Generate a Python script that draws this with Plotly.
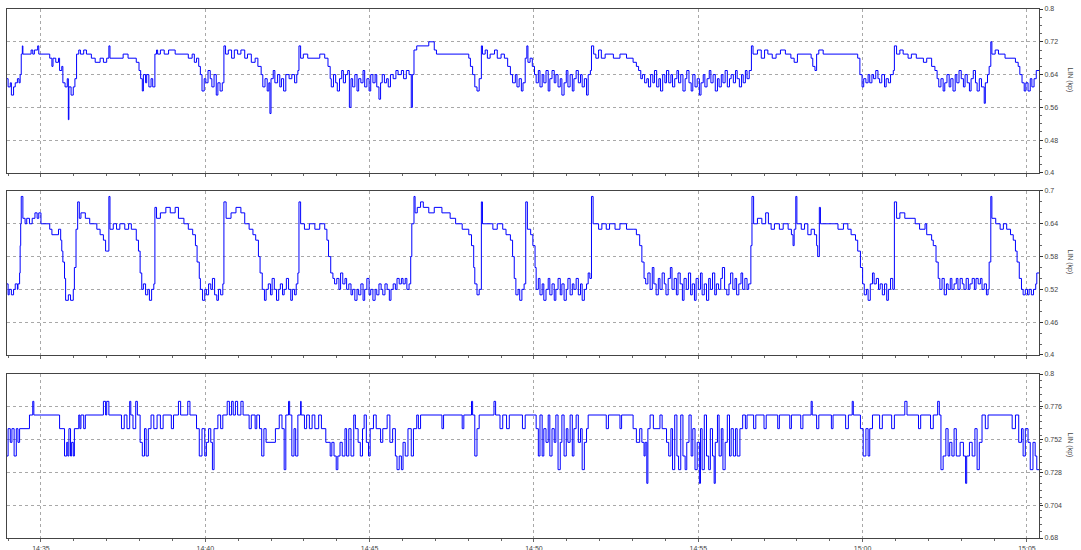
import datetime as dt
import plotly.graph_objects as go
from plotly.subplots import make_subplots

BASE = dt.datetime(2024, 1, 1, 14, 35, 0)

# ---------- Panel 1 (seconds after 14:35:00, value) ----------
T1 = [-64,-60,-56,-54,-50,-47,-43,-40,-38,-36,-34,-33,-18,-15,-12,-6,-4,16,20,22,27,32,34,38,40,44,48,50,51,55,59,62,65,69,72,78,83,92,99,108,114,120,124,126,150,159,174,179,182,185,187,191,193,197,201,204,208,211,213,218,225,233,245,269,276,280,284,288,291,294,298,301,305,309,312,316,320,323,327,331,334,337,342,348,353,359,365,372,377,384,391,396,402,405,409,413,416,418,420,424,427,432,436,439,443,447,453,458,463,467,469,471,474,479,487,509,518,524,528,530,534,538,541,545,549,552,556,560,563,566,569,573,577,580,584,588,591,595,599,602,606,610,613,617,620,623,627,631,634,638,643,648,652,658,662,667,672,676,678,681,686,708,718,722,781,784,788,792,796,800,804,806,811,815,820,828,833,840,846,852,857,861,866,869,873,877,880,884,887,889,893,897,901,904,908,911,915,918,922,926,929,933,937,940,944,948,951,955,959,962,966,970,973,977,981,985,988,992,996,999,1003,1005,1009,1013,1018,1023,1030,1045,1057,1069,1081,1087,1091,1095,1098,1102,1106,1109,1113,1117,1120,1124,1128,1131,1135,1139,1142,1146,1150,1153,1157,1161,1164,1168,1172,1176,1179,1183,1187,1190,1194,1198,1202,1205,1209,1212,1216,1220,1223,1227,1231,1235,1238,1242,1245,1249,1253,1257,1260,1264,1268,1271,1275,1279,1282,1286,1289,1293,1297,1300,1308,1315,1321,1327,1335,1342,1350,1359,1369,1375,1381,1406,1409,1413,1416,1420,1428,1491,1495,1499,1502,1506,1510,1513,1517,1520,1524,1528,1531,1535,1540,1543,1547,1551,1556,1558,1562,1568,1574,1583,1589,1598,1611,1617,1626,1632,1636,1639,1643,1647,1650,1654,1658,1661,1665,1669,1672,1676,1680,1684,1687,1691,1695,1698,1702,1706,1709,1713,1717,1722,1724,1728,1731,1734,1736,1742,1748,1760,1779,1784,1787,1791,1795,1798,1802,1806,1809,1813,1817,1822]
V1 = [0.63,0.61,0.62,0.59,0.61,0.62,0.63,0.62,0.64,0.69,0.71,0.69,0.70,0.69,0.70,0.71,0.69,0.68,0.66,0.68,0.67,0.68,0.65,0.66,0.62,0.61,0.63,0.53,0.61,0.59,0.61,0.63,0.69,0.70,0.69,0.70,0.69,0.68,0.67,0.68,0.67,0.68,0.71,0.68,0.69,0.68,0.67,0.65,0.63,0.60,0.64,0.62,0.64,0.61,0.63,0.61,0.69,0.70,0.69,0.70,0.69,0.70,0.69,0.68,0.69,0.67,0.68,0.66,0.64,0.60,0.63,0.62,0.65,0.63,0.61,0.64,0.59,0.62,0.60,0.62,0.71,0.69,0.70,0.68,0.70,0.69,0.70,0.68,0.69,0.67,0.68,0.66,0.64,0.61,0.63,0.60,0.62,0.545,0.63,0.65,0.62,0.64,0.61,0.63,0.60,0.64,0.63,0.64,0.62,0.64,0.65,0.71,0.68,0.69,0.68,0.69,0.68,0.66,0.63,0.61,0.64,0.62,0.60,0.63,0.65,0.62,0.64,0.65,0.56,0.63,0.61,0.64,0.60,0.63,0.62,0.65,0.61,0.63,0.60,0.64,0.62,0.64,0.61,0.58,0.62,0.64,0.62,0.63,0.61,0.64,0.63,0.65,0.64,0.65,0.63,0.65,0.64,0.56,0.64,0.70,0.71,0.72,0.70,0.69,0.68,0.66,0.64,0.61,0.60,0.63,0.71,0.69,0.70,0.68,0.69,0.70,0.68,0.69,0.68,0.66,0.64,0.62,0.64,0.61,0.63,0.60,0.62,0.68,0.71,0.67,0.68,0.66,0.64,0.62,0.65,0.61,0.64,0.62,0.65,0.60,0.63,0.65,0.62,0.64,0.61,0.63,0.59,0.62,0.65,0.61,0.64,0.60,0.63,0.65,0.62,0.64,0.61,0.63,0.59,0.64,0.65,0.71,0.69,0.68,0.70,0.68,0.69,0.68,0.69,0.68,0.67,0.66,0.65,0.63,0.64,0.62,0.63,0.61,0.64,0.62,0.65,0.61,0.63,0.60,0.64,0.62,0.65,0.62,0.64,0.61,0.63,0.65,0.62,0.64,0.60,0.63,0.65,0.62,0.60,0.64,0.61,0.63,0.59,0.62,0.64,0.61,0.63,0.65,0.62,0.64,0.60,0.63,0.61,0.64,0.62,0.65,0.61,0.63,0.64,0.62,0.65,0.63,0.61,0.64,0.62,0.65,0.63,0.65,0.71,0.69,0.70,0.68,0.70,0.69,0.68,0.69,0.70,0.69,0.68,0.67,0.69,0.68,0.66,0.65,0.69,0.70,0.69,0.68,0.64,0.61,0.63,0.62,0.64,0.62,0.64,0.63,0.65,0.63,0.62,0.64,0.61,0.63,0.62,0.64,0.65,0.71,0.69,0.70,0.69,0.68,0.69,0.68,0.67,0.68,0.66,0.65,0.63,0.61,0.63,0.60,0.62,0.64,0.61,0.63,0.60,0.64,0.62,0.65,0.63,0.61,0.64,0.62,0.60,0.63,0.65,0.62,0.60,0.63,0.61,0.57,0.62,0.64,0.66,0.72,0.69,0.70,0.69,0.68,0.67,0.66,0.64,0.62,0.60,0.62,0.60,0.63,0.61,0.63,0.65,0.65]

# ---------- Panel 2 ----------
T2 = [-64,-60,-58,-54,-50,-47,-43,-42,-39,-38,-37,-36,-33,-29,-26,-21,-16,-11,-7,-4,0,16,20,32,36,38,40,43,45,50,54,59,61,64,67,70,73,81,89,102,108,114,118,120,124,126,132,138,144,153,160,165,174,178,181,184,187,191,195,198,202,206,208,211,218,228,236,245,251,261,269,277,282,285,289,291,295,299,302,306,310,313,317,321,324,328,332,334,338,347,356,365,372,380,387,392,397,400,404,408,411,415,419,422,426,430,434,437,441,444,448,452,456,459,463,466,469,471,474,481,490,500,509,518,522,525,529,533,536,540,544,547,551,555,558,562,566,569,573,577,580,584,588,591,595,599,602,606,610,613,617,621,624,628,632,636,639,643,647,650,654,658,661,665,668,672,675,677,681,683,687,693,698,708,718,732,747,757,769,781,786,790,792,796,800,804,806,825,833,843,849,857,861,864,867,871,874,878,882,885,888,894,898,902,904,908,911,915,918,922,926,929,933,937,940,944,948,951,955,959,962,966,970,973,977,981,985,988,992,996,999,1002,1005,1008,1018,1024,1032,1038,1048,1057,1069,1081,1087,1093,1097,1101,1104,1108,1112,1116,1119,1123,1127,1130,1134,1138,1141,1145,1149,1152,1156,1160,1163,1167,1171,1174,1178,1182,1186,1189,1193,1196,1200,1204,1207,1211,1215,1219,1222,1226,1230,1233,1237,1241,1244,1248,1252,1256,1259,1263,1267,1270,1274,1278,1281,1285,1289,1292,1296,1298,1301,1308,1316,1323,1328,1333,1339,1348,1355,1364,1370,1373,1375,1378,1380,1388,1394,1400,1406,1412,1416,1418,1421,1423,1443,1455,1465,1473,1479,1487,1491,1496,1500,1503,1507,1510,1514,1518,1521,1525,1529,1532,1536,1540,1544,1547,1551,1555,1558,1562,1568,1577,1596,1604,1614,1617,1626,1629,1634,1638,1641,1645,1649,1653,1656,1660,1663,1667,1671,1674,1678,1682,1685,1689,1693,1696,1700,1704,1707,1711,1715,1718,1722,1726,1729,1731,1734,1736,1743,1751,1757,1763,1770,1775,1779,1782,1786,1790,1793,1797,1801,1804,1808,1812,1816,1818,1822]
V2 = [0.53,0.51,0.52,0.51,0.52,0.53,0.52,0.53,0.55,0.60,0.64,0.69,0.65,0.64,0.65,0.64,0.65,0.66,0.65,0.66,0.64,0.63,0.62,0.63,0.61,0.59,0.57,0.54,0.50,0.51,0.50,0.52,0.56,0.63,0.68,0.65,0.66,0.65,0.64,0.63,0.62,0.61,0.59,0.59,0.69,0.63,0.64,0.63,0.64,0.63,0.64,0.63,0.61,0.59,0.55,0.52,0.53,0.51,0.52,0.50,0.52,0.53,0.67,0.65,0.66,0.67,0.66,0.67,0.65,0.64,0.63,0.62,0.60,0.57,0.54,0.52,0.50,0.52,0.51,0.53,0.52,0.54,0.51,0.50,0.52,0.51,0.53,0.68,0.65,0.66,0.67,0.66,0.64,0.63,0.62,0.61,0.58,0.55,0.52,0.50,0.52,0.53,0.51,0.54,0.52,0.50,0.52,0.53,0.51,0.52,0.54,0.52,0.50,0.52,0.51,0.53,0.55,0.68,0.64,0.63,0.64,0.63,0.64,0.63,0.61,0.58,0.55,0.54,0.53,0.54,0.52,0.55,0.53,0.54,0.52,0.53,0.51,0.52,0.50,0.52,0.51,0.53,0.50,0.52,0.54,0.51,0.52,0.50,0.52,0.51,0.53,0.52,0.51,0.53,0.52,0.50,0.52,0.53,0.52,0.54,0.53,0.54,0.53,0.54,0.52,0.53,0.58,0.64,0.69,0.66,0.67,0.68,0.67,0.66,0.67,0.66,0.65,0.64,0.63,0.62,0.60,0.56,0.53,0.51,0.52,0.68,0.64,0.63,0.64,0.63,0.62,0.61,0.58,0.54,0.51,0.52,0.50,0.52,0.53,0.68,0.63,0.62,0.60,0.56,0.52,0.54,0.51,0.53,0.50,0.52,0.54,0.51,0.53,0.50,0.52,0.54,0.51,0.53,0.50,0.52,0.54,0.51,0.53,0.52,0.54,0.51,0.53,0.50,0.52,0.53,0.55,0.54,0.69,0.64,0.63,0.64,0.63,0.64,0.63,0.64,0.63,0.63,0.62,0.60,0.57,0.54,0.53,0.55,0.52,0.56,0.53,0.51,0.54,0.52,0.55,0.53,0.51,0.54,0.56,0.52,0.54,0.51,0.55,0.53,0.50,0.54,0.52,0.55,0.51,0.53,0.50,0.54,0.52,0.55,0.51,0.53,0.50,0.54,0.52,0.55,0.51,0.53,0.52,0.54,0.56,0.52,0.51,0.53,0.55,0.52,0.54,0.51,0.53,0.55,0.52,0.54,0.52,0.53,0.60,0.69,0.64,0.65,0.64,0.66,0.64,0.63,0.64,0.63,0.64,0.63,0.62,0.60,0.63,0.69,0.64,0.63,0.64,0.62,0.63,0.62,0.60,0.58,0.67,0.64,0.64,0.63,0.64,0.63,0.62,0.61,0.59,0.56,0.53,0.51,0.52,0.50,0.53,0.55,0.53,0.54,0.52,0.53,0.51,0.53,0.50,0.52,0.54,0.52,0.68,0.65,0.66,0.65,0.64,0.63,0.64,0.62,0.61,0.60,0.57,0.54,0.52,0.54,0.51,0.53,0.52,0.54,0.52,0.53,0.54,0.52,0.54,0.53,0.52,0.54,0.52,0.53,0.54,0.52,0.54,0.53,0.54,0.52,0.53,0.51,0.52,0.57,0.69,0.65,0.64,0.63,0.64,0.63,0.62,0.61,0.59,0.57,0.54,0.52,0.51,0.52,0.51,0.52,0.51,0.52,0.53,0.55,0.55]

# ---------- Panel 3 ----------
T3 = [-64,-60,-56,-53,-49,-45,-42,-39,-21,-15,-13,34,43,47,49,51,54,56,59,61,69,71,73,78,81,114,118,120,124,147,152,157,162,164,168,173,176,181,185,189,192,196,201,206,212,218,223,238,242,251,255,268,272,284,289,294,299,302,306,310,313,316,323,328,332,340,344,348,351,355,359,365,369,380,384,391,394,399,403,407,411,428,435,440,444,447,452,454,458,462,465,469,474,475,481,485,490,495,500,507,512,520,528,531,535,539,542,546,550,555,558,562,566,571,574,579,583,587,590,594,598,601,607,612,620,624,632,637,642,647,650,654,658,661,665,670,676,680,686,689,693,732,735,769,772,786,788,792,796,800,827,830,838,843,850,855,879,884,904,908,911,915,918,922,926,929,933,937,940,944,948,951,955,959,962,966,970,973,977,981,985,988,992,996,999,1032,1036,1057,1060,1081,1087,1093,1097,1101,1103,1106,1108,1112,1118,1130,1134,1142,1146,1150,1153,1157,1161,1164,1168,1172,1176,1179,1183,1187,1190,1194,1198,1202,1204,1207,1211,1215,1219,1222,1226,1229,1231,1235,1238,1242,1245,1249,1253,1257,1260,1264,1268,1271,1276,1281,1286,1289,1301,1305,1320,1324,1345,1348,1367,1370,1387,1391,1406,1408,1416,1420,1443,1446,1469,1474,1481,1483,1496,1501,1506,1510,1513,1518,1531,1536,1553,1558,1577,1581,1602,1606,1624,1629,1637,1640,1643,1647,1652,1656,1659,1663,1667,1671,1678,1684,1688,1690,1695,1700,1705,1709,1713,1718,1724,1729,1773,1779,1785,1790,1793,1797,1802,1806,1811,1815,1818,1822]
V3 = [0.74,0.76,0.75,0.76,0.74,0.76,0.75,0.76,0.77,0.78,0.77,0.76,0.74,0.75,0.74,0.76,0.74,0.75,0.74,0.76,0.77,0.76,0.77,0.76,0.77,0.78,0.77,0.78,0.77,0.76,0.77,0.76,0.78,0.77,0.76,0.78,0.77,0.75,0.74,0.76,0.74,0.76,0.77,0.76,0.77,0.76,0.77,0.76,0.77,0.78,0.77,0.78,0.77,0.76,0.74,0.76,0.74,0.75,0.76,0.75,0.73,0.76,0.77,0.76,0.77,0.78,0.77,0.78,0.77,0.78,0.77,0.78,0.77,0.76,0.77,0.76,0.77,0.76,0.74,0.76,0.75,0.76,0.77,0.76,0.73,0.77,0.78,0.77,0.74,0.76,0.74,0.77,0.78,0.77,0.76,0.77,0.76,0.77,0.76,0.77,0.76,0.75,0.74,0.75,0.74,0.73,0.74,0.75,0.74,0.76,0.74,0.76,0.74,0.77,0.76,0.75,0.74,0.76,0.77,0.75,0.74,0.76,0.77,0.76,0.75,0.76,0.77,0.75,0.76,0.74,0.73,0.74,0.73,0.75,0.74,0.76,0.74,0.76,0.77,0.76,0.77,0.76,0.77,0.76,0.77,0.78,0.77,0.74,0.76,0.77,0.78,0.77,0.76,0.77,0.76,0.77,0.76,0.77,0.76,0.74,0.77,0.74,0.76,0.75,0.77,0.74,0.76,0.75,0.77,0.73,0.75,0.77,0.74,0.76,0.75,0.77,0.74,0.76,0.77,0.75,0.76,0.73,0.75,0.76,0.77,0.76,0.77,0.76,0.77,0.76,0.75,0.76,0.75,0.74,0.75,0.72,0.76,0.77,0.76,0.77,0.76,0.75,0.74,0.76,0.73,0.77,0.74,0.73,0.77,0.74,0.73,0.75,0.77,0.74,0.76,0.73,0.75,0.72,0.76,0.73,0.77,0.74,0.73,0.76,0.74,0.72,0.75,0.77,0.74,0.76,0.73,0.75,0.77,0.74,0.76,0.74,0.76,0.74,0.76,0.77,0.76,0.77,0.76,0.77,0.76,0.77,0.76,0.77,0.76,0.77,0.76,0.77,0.78,0.77,0.76,0.77,0.76,0.77,0.76,0.77,0.78,0.77,0.76,0.74,0.76,0.74,0.76,0.77,0.76,0.77,0.76,0.77,0.78,0.77,0.76,0.77,0.76,0.77,0.78,0.77,0.73,0.74,0.76,0.74,0.75,0.74,0.76,0.74,0.75,0.74,0.72,0.74,0.75,0.74,0.76,0.73,0.75,0.77,0.76,0.77,0.76,0.77,0.75,0.76,0.74,0.76,0.75,0.73,0.75,0.74,0.73,0.73]

Y_TICKS = [
    [0.4, 0.48, 0.56, 0.64, 0.72, 0.8],
    [0.4, 0.46, 0.52, 0.58, 0.64, 0.7],
    [0.68, 0.704, 0.728, 0.752, 0.776, 0.8],
]
Y_LABELS = [
    ["0.4", "0.48", "0.56", "0.64", "0.72", "0.8"],
    ["0.4", "0.46", "0.52", "0.58", "0.64", "0.7"],
    ["0.68", "0.704", "0.728", "0.752", "0.776", "0.8"],
]
Y_TITLE = "LIN (kp)"

def to_time(ts):
    return [BASE + dt.timedelta(seconds=s) for s in ts]

fig = make_subplots(rows=3, cols=1, shared_xaxes=True, vertical_spacing=0.03)

for i, (T, V) in enumerate([(T1, V1), (T2, V2), (T3, V3)], start=1):
    fig.add_trace(go.Scatter(x=to_time(T), y=V, mode="lines",
                             line=dict(color="#0000ff", width=1, shape="hv"),
                             showlegend=False, hoverinfo="skip"), row=i, col=1)

domains = [[0.690, 1.0], [0.346, 0.656], [0.0, 0.310]]
FONT = "Liberation Sans, Arial, sans-serif"
axis_font = dict(family=FONT, size=7, color="#444")

for i in range(3):
    yname = "yaxis" if i == 0 else f"yaxis{i+1}"
    xname = "xaxis" if i == 0 else f"xaxis{i+1}"
    tv = Y_TICKS[i]
    fig.layout[yname].update(
        domain=domains[i], side="right", range=[tv[0], tv[-1]],
        tickmode="array", tickvals=tv, ticktext=Y_LABELS[i],
        tickfont=axis_font, ticks="outside", ticklen=3, tickcolor="#333",
        minor=dict(ticks="outside", ticklen=2, tickcolor="#666", nticks=5, showgrid=False),
        showgrid=True, gridcolor="#a8a8a8", griddash="dot", gridwidth=1,
        showline=True, linecolor="#444", linewidth=1.2, mirror=True,
        zeroline=False, automargin=False,
    )
    fig.layout[xname].update(
        type="date",
        range=[BASE - dt.timedelta(seconds=62), BASE + dt.timedelta(seconds=1822)],
        tick0=BASE, dtick=300000, tickformat="%H:%M",
        tickfont=axis_font, ticks="outside", ticklen=3, tickcolor="#666",
        minor=dict(dtick=60000, ticks="outside", ticklen=2, tickcolor="#666", showgrid=False),
        showgrid=True, gridcolor="#a8a8a8", griddash="dot", gridwidth=1,
        showline=True, linecolor="#444", linewidth=1.2, mirror=True,
        zeroline=False, automargin=False,
        showticklabels=(i == 2),
    )
    # rotated axis title to the right of each panel
    mid = 0.5 * (domains[i][0] + domains[i][1])
    fig.add_annotation(
        text=Y_TITLE, textangle=90, showarrow=False,
        xref="paper", yref="paper",
        x=1.030, xanchor="center",
        y=mid + 0.02, yanchor="middle",
        font=dict(family=FONT, size=7, color="#444"),
    )

fig.update_layout(
    width=1081, height=550,
    margin=dict(l=7, r=42, t=9, b=12),
    paper_bgcolor="white", plot_bgcolor="white",
    font=axis_font,
)

fig.write_html(
    "out.html",
    config={"displayModeBar": False},
    post_script="document.body.style.margin='0';document.body.style.overflow='hidden';",
)
